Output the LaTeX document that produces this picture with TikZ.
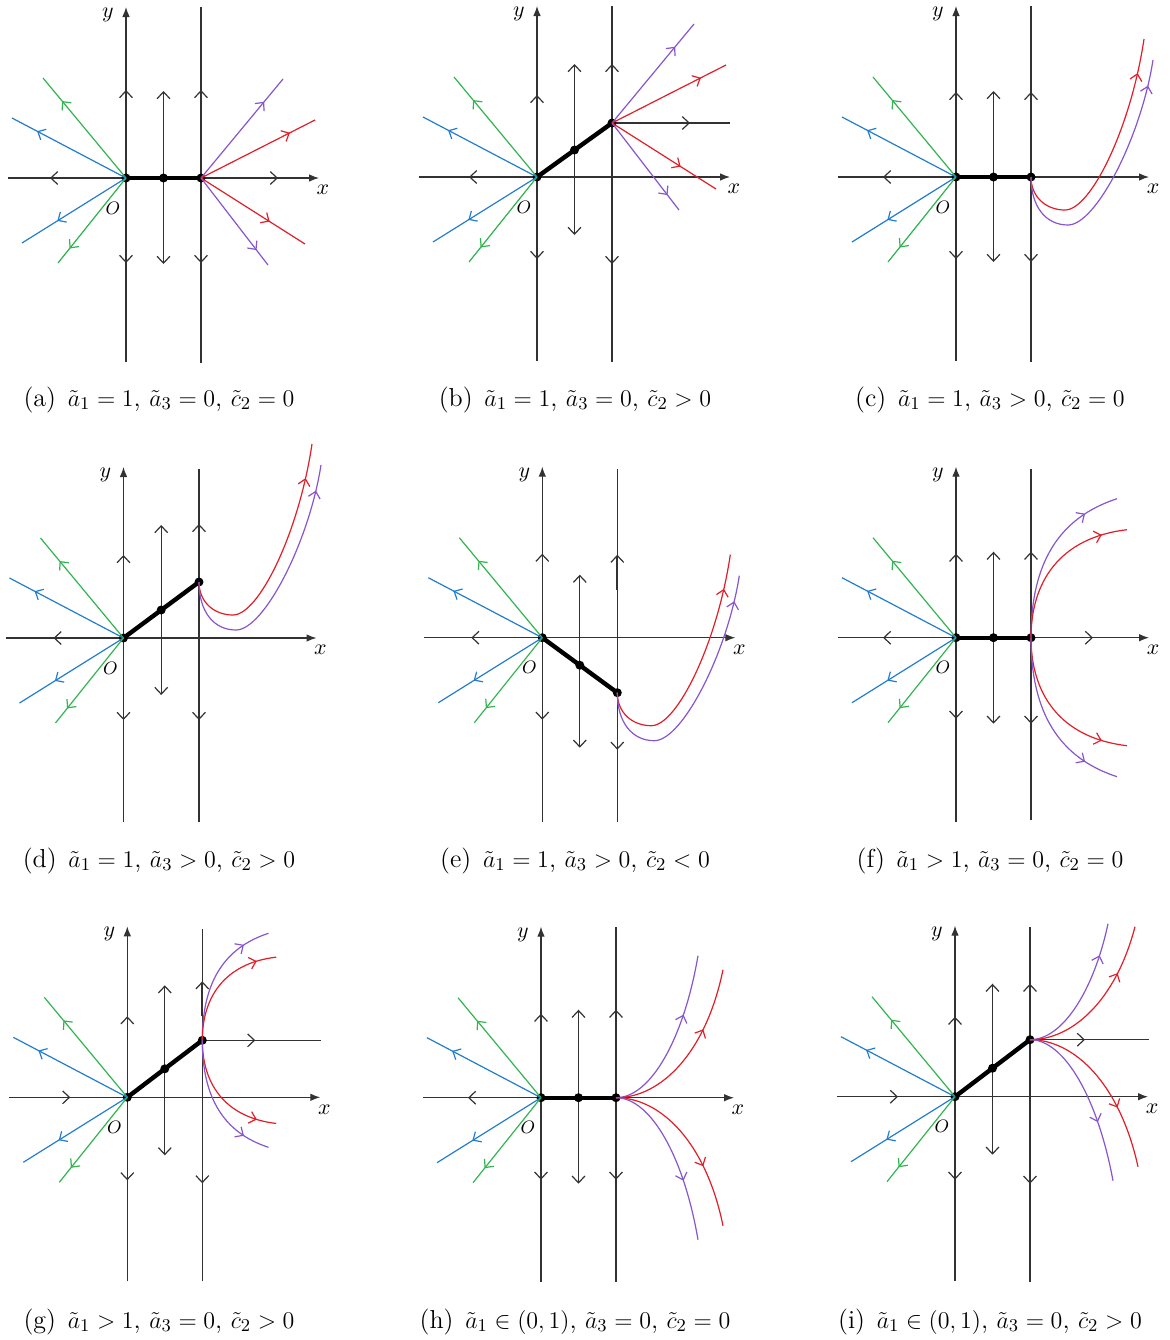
\documentclass[tikz,border=0pt]{standalone}
\usetikzlibrary{arrows.meta,decorations.markings}
\definecolor{gcol}{RGB}{50,180,80}
\definecolor{bcol}{RGB}{35,125,205}
\definecolor{rcol}{RGB}{225,30,40}
\definecolor{pcol}{RGB}{135,85,205}
\definecolor{axc}{RGB}{50,50,50}
\tikzset{
 axl/.style={draw=axc,line width=0.6pt},
 axtip/.style={-{Latex[length=5pt,width=3.8pt]}},
 chevtip/.style={-{Straight Barb[length=3.4pt,width=6.4pt]}},
 dblchev/.style={{Straight Barb[length=3.4pt,width=6.4pt]}-{Straight Barb[length=3.4pt,width=6.4pt]}},
 flow/.style={line width=0.6pt},
 fmark/.style={postaction={decorate},decoration={markings,mark=at position #1 with {\arrow{Straight Barb[length=3.2pt,width=6pt]}}}},
 seg/.style={line width=2.2pt,black},
 dot/.style={circle,fill=black,inner sep=0pt,minimum size=4.5pt},
 lab/.style={font=\fontsize{11}{13}\selectfont},
 olab/.style={font=\fontsize{9}{11}\selectfont},
 captext/.style={anchor=base,font=\fontsize{13}{16}\selectfont},
 thickbit/.style={draw=axc,line width=1.1pt},
}
\newcommand\chU[2]{\draw[axl,chevtip] (#1,#2+9) -- (#1,#2);}
\newcommand\chD[2]{\draw[axl,chevtip] (#1,#2-9) -- (#1,#2);}
\newcommand\chL[2]{\draw[axl,chevtip] (#1+9,#2) -- (#1,#2);}
\newcommand\chR[2]{\draw[axl,chevtip] (#1-9,#2) -- (#1,#2);}
\newcommand\baseaxes{%
 \draw[axl,axtip] (0,184) -- (0,-171);
 \draw[axl,axtip] (-118,0) -- (193,0);
 \node[lab] (xl) at (197,12) {$x$};
 \node[lab] (yl) at (-18,-163) {$y$};
 \node[olab] (ol) at (-13,30) {$O$};
}
\newcommand\leftrays{%
 \draw[flow,gcol,fmark=0.77] (0,0) -- (-83,-100);
 \draw[flow,bcol,fmark=0.78] (0,0) -- (-114,-60);
 \draw[flow,bcol,fmark=0.66] (0,0) -- (-104,65);
 \draw[flow,gcol,fmark=0.83] (0,0) -- (-68,85);
}
\newcommand\rightrays{%
 \draw[flow,pcol,fmark=0.77] (0,0) -- (82,-99);
 \draw[flow,rcol,fmark=0.78] (0,0) -- (114,-58);
 \draw[flow,rcol,fmark=0.66] (0,0) -- (104,66);
 \draw[flow,pcol,fmark=0.83] (0,0) -- (67,87);
}
\newcommand\Ucurves{%
 \draw[flow,rcol,fmark=0.86] (0,0) .. controls (0,20) and (15,33) .. (34,33) .. controls (60,33) and (100,-50) .. (113,-138);
 \draw[flow,pcol,fmark=0.9] (0,0) .. controls (0,30) and (15,48) .. (37,48) .. controls (65,48) and (110,-40) .. (122,-117);
}
\newcommand\Ccurves{%
 \draw[flow,pcol,fmark=0.8] (0,0) .. controls (0,-75) and (28,-120) .. (86,-139);
 \draw[flow,rcol,fmark=0.84] (0,0) .. controls (0,-55) and (28,-100) .. (96,-108);
 \draw[flow,rcol,fmark=0.84] (0,0) .. controls (0,55) and (28,100) .. (96,108);
 \draw[flow,pcol,fmark=0.8] (0,0) .. controls (0,75) and (28,120) .. (86,139);
}
\newcommand\Scurves{%
 \draw[flow,pcol,fmark=0.65] (0,0) .. controls (35,0) and (68,-60) .. (82,-142);
 \draw[flow,rcol,fmark=0.65] (0,0) .. controls (45,0) and (90,-45) .. (107,-128);
 \draw[flow,rcol,fmark=0.65] (0,0) .. controls (45,0) and (90,45) .. (107,128);
 \draw[flow,pcol,fmark=0.65] (0,0) .. controls (35,0) and (68,60) .. (82,142);
}
\begin{document}
\begin{tikzpicture}[x=0.5pt,y=-0.5pt]
\useasboundingbox (0,0) rectangle (1169,1340);
% ---------- (a)
\begin{scope}[shift={(126,178)}]
 \baseaxes
 \chU{0}{-88} \chD{0}{85} \chL{-76}{0} \chR{152}{0}
 \draw[axl,dblchev] (37.5,86) -- (37.5,-87);
 \draw[axl] (75,185) -- (75,-171);
 \chU{75}{-88} \chD{75}{85}
 \draw[seg] (0,0) -- (75,0);
 \node[dot] (a0) at (0,0) {}; \node[dot] (a1) at (37.5,0) {}; \node[dot] (a2) at (75,0) {};
 \leftrays
 \begin{scope}[shift={(75,0)}] \rightrays \end{scope}
\end{scope}
\node[captext] (ca) at (159,406) {(a)\hspace{0.45em}$\tilde{a}_1=1$, $\tilde{a}_3=0$, $\tilde{c}_2=0$};
% ---------- (b)
\begin{scope}[shift={(537,177)}]
 \baseaxes
 \chU{0}{-82} \chD{0}{82} \chL{-68}{0}
 \draw[axl,dblchev] (37.5,58) -- (37.5,-113);
 \draw[axl] (75,185) -- (75,-171);
 \chU{75}{-113} \chD{75}{87}
 \draw[axl] (75,-54) -- (193,-54);
 \chR{153}{-54}
 \draw[seg] (0,0) -- (75,-54);
 \node[dot] (b0) at (0,0) {}; \node[dot] (b1) at (37.5,-27) {}; \node[dot] (b2) at (75,-54) {};
 \leftrays
 \begin{scope}[shift={(75,-54)}] \rightrays \end{scope}
\end{scope}
\node[captext] (cb) at (575,406) {(b)\hspace{0.45em}$\tilde{a}_1=1$, $\tilde{a}_3=0$, $\tilde{c}_2>0$};
% ---------- (c)
\begin{scope}[shift={(956,177)}]
 \baseaxes
 \chU{0}{-85} \chD{0}{82} \chL{-73}{0}
 \draw[axl,dblchev] (37.5,85) -- (37.5,-86);
 \draw[axl] (75,185) -- (75,-171);
 \chU{75}{-85} \chD{75}{85}
 \draw[seg] (0,0) -- (75,0);
 \node[dot] (c0) at (0,0) {}; \node[dot] (c1) at (37.5,0) {}; \node[dot] (c2) at (75,0) {};
 \leftrays
 \begin{scope}[shift={(75,0)}] \Ucurves \end{scope}
\end{scope}
\node[captext] (cc) at (990,406) {(c)\hspace{0.45em}$\tilde{a}_1=1$, $\tilde{a}_3>0$, $\tilde{c}_2=0$};
% ---------- (d)
\begin{scope}[shift={(123.5,638)}]
 \baseaxes
 \chU{0}{-83} \chD{0}{82} \chL{-70}{0}
 \draw[axl,dblchev] (37.7,57) -- (37.7,-113);
 \draw[axl] (75.5,184) -- (75.5,-169);
 \draw[thickbit] (75.5,-112) -- (75.5,-81);
 \chU{75.5}{-114} \chD{75.5}{82}
 \draw[seg] (0,0) -- (75.5,-56);
 \node[dot] (d0) at (0,0) {}; \node[dot] (d1) at (37.7,-28) {}; \node[dot] (d2) at (75.5,-56) {};
 \leftrays
 \begin{scope}[shift={(75.5,-56)}] \Ucurves \end{scope}
\end{scope}
\node[captext] (cd) at (159,867) {(d)\hspace{0.45em}$\tilde{a}_1=1$, $\tilde{a}_3>0$, $\tilde{c}_2>0$};
% ---------- (e)
\begin{scope}[shift={(542.3,637.7)}]
 \baseaxes
 \chU{0}{-84} \chD{0}{82} \chL{-71}{0}
 \draw[axl,dblchev] (37.5,110) -- (37.5,-63);
 \draw[axl] (75,184) -- (75,-169);
 \draw[thickbit] (75,-81) -- (75,-48);
 \chU{75}{-83} \chD{75}{112}
 \draw[seg] (0,0) -- (75,55);
 \node[dot] (e0) at (0,0) {}; \node[dot] (e1) at (37.5,27.5) {}; \node[dot] (e2) at (75,55) {};
 \leftrays
 \begin{scope}[shift={(75,55)}] \Ucurves \end{scope}
\end{scope}
\node[captext] (ce) at (575,867) {(e)\hspace{0.45em}$\tilde{a}_1=1$, $\tilde{a}_3>0$, $\tilde{c}_2<0$};
% ---------- (f)
\begin{scope}[shift={(956,637.7)}]
 \baseaxes
 \chU{0}{-84} \chD{0}{81} \chL{-73}{0} \chR{137}{0}
 \draw[axl,dblchev] (37.5,86) -- (37.5,-86);
 \draw[axl] (75,182) -- (75,-169);
 \draw[thickbit] (75,-84) -- (75,-53);
 \chU{75}{-86} \chD{75}{86}
 \draw[seg] (0,0) -- (75,0);
 \node[dot] (f0) at (0,0) {}; \node[dot] (f1) at (37.5,0) {}; \node[dot] (f2) at (75,0) {};
 \leftrays
 \begin{scope}[shift={(75,0)}] \Ccurves \end{scope}
\end{scope}
\node[captext] (cf) at (990,867) {(f)\hspace{0.45em}$\tilde{a}_1>1$, $\tilde{a}_3=0$, $\tilde{c}_2=0$};
% ---------- (g)
\begin{scope}[shift={(127.3,1097.3)}]
 \baseaxes
 \chU{0}{-81} \chD{0}{83} \chR{-57}{0}
 \draw[axl,dblchev] (37.5,58) -- (37.5,-112);
 \draw[axl] (75,184) -- (75,-168);
 \draw[thickbit] (75,-114) -- (75,-81);
 \chU{75}{-116} \chD{75}{86}
 \draw[axl] (75,-57) -- (194,-57);
 \chR{128}{-57}
 \draw[seg] (0,0) -- (75,-57);
 \node[dot] (g0) at (0,0) {}; \node[dot] (g1) at (37.5,-28.5) {}; \node[dot] (g2) at (75,-57) {};
 \leftrays
 \begin{scope}[shift={(75,-57)},scale=0.77] \Ccurves \end{scope}
\end{scope}
\node[captext] (cg) at (159,1328) {(g)\hspace{0.45em}$\tilde{a}_1>1$, $\tilde{a}_3=0$, $\tilde{c}_2>0$};
% ---------- (h)
\begin{scope}[shift={(541,1097.7)}]
 \baseaxes
 \chU{0}{-84} \chD{0}{82} \chL{-73}{0}
 \draw[axl,dblchev] (37.5,86) -- (37.5,-88);
 \draw[axl] (75,184) -- (75,-171);
 \draw[thickbit] (75,-86) -- (75,-53);
 \chU{75}{-88} \chD{75}{82}
 \draw[seg] (0,0) -- (75,0);
 \node[dot] (h0) at (0,0) {}; \node[dot] (h1) at (37.5,0) {}; \node[dot] (h2) at (75,0) {};
 \leftrays
 \begin{scope}[shift={(75,0)}] \Scurves \end{scope}
\end{scope}
\node[captext] (ch) at (575,1328) {(h)\hspace{0.45em}$\tilde{a}_1\in(0,1)$, $\tilde{a}_3=0$, $\tilde{c}_2=0$};
% ---------- (i)
\begin{scope}[shift={(955,1096.7)}]
 \baseaxes
 \chU{0}{-80} \chD{0}{83} \chR{-57}{0}
 \draw[axl,dblchev] (37.5,58) -- (37.5,-113);
 \draw[axl] (75,185) -- (75,-170);
 \chU{75}{-113} \chD{75}{87}
 \draw[axl] (75,-57) -- (194,-57);
 \chR{130}{-57}
 \draw[seg] (0,0) -- (75,-57);
 \node[dot] (i0) at (0,0) {}; \node[dot] (i1) at (37.5,-28.5) {}; \node[dot] (i2) at (75,-57) {};
 \leftrays
 \begin{scope}[shift={(75,-57)}]
  \draw[flow,pcol,fmark=0.78] (0,0) .. controls (33,0) and (64,-50) .. (78,-116);
  \draw[flow,rcol,fmark=0.7] (0,0) .. controls (43,0) and (86,-40) .. (105,-113);
  \draw[flow,rcol,fmark=0.65] (0,0) .. controls (45,0) and (90,45) .. (108,127);
  \draw[flow,pcol,fmark=0.65] (0,0) .. controls (35,0) and (68,60) .. (83,141);
 \end{scope}
\end{scope}
\node[captext] (ci) at (990,1328) {(i)\hspace{0.45em}$\tilde{a}_1\in(0,1)$, $\tilde{a}_3=0$, $\tilde{c}_2>0$};
\end{tikzpicture}
\end{document}
